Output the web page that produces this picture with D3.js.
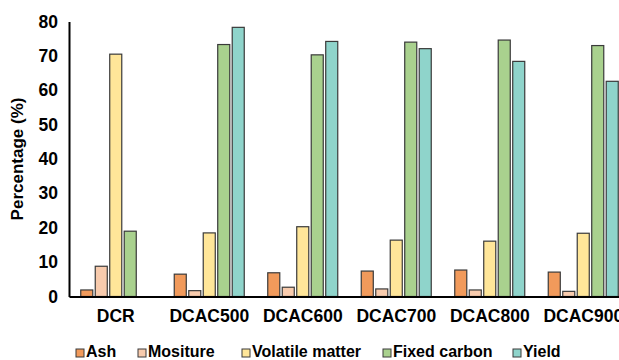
<!DOCTYPE html>
<html><head><meta charset="utf-8">
<script src="https://cdn.jsdelivr.net/npm/d3@7"></script>
<style>body{margin:0;background:#fff}svg{display:block;font-family:"Liberation Sans",Arial,sans-serif;font-weight:bold}</style>
</head><body><svg id="c" width="619" height="360"></svg>
<script>
const categories = ["DCR","DCAC500","DCAC600","DCAC700","DCAC800","DCAC900"];
const seriesNames = ["Ash","Mositure","Volatile matter","Fixed carbon","Yield"];
const ash = [1.9, 6.5, 6.9, 7.4, 7.7, 7.1];
const moisture = [8.8, 1.7, 2.7, 2.2, 1.9, 1.5];
const volatileMatter = [70.5, 18.5, 20.3, 16.4, 16.1, 18.4];
const fixedCarbon = [19.0, 73.3, 70.3, 74.0, 74.6, 73.0];
const yieldVals = [null, 78.3, 74.2, 72.1, 68.4, 62.6];
const yTicks = [0,10,20,30,40,50,60,70,80];
const colors = ["#F19A5B","#F8CBAD","#FFE699","#A9D18E","#8FD4CB"];
const seriesValues = [ash, moisture, volatileMatter, fixedCarbon, yieldVals];

const svg = d3.select("#c");
const x0 = d3.scaleBand().domain(categories).range([69, 630]).padding(0);
const x1 = d3.scaleBand().domain(seriesNames).range([11.75, x0.bandwidth()-11.75]).paddingInner(0.17);
const y = d3.scaleLinear().domain([0,80]).range([296.5, 21.5]);

// bars
const g = svg.append("g");
categories.forEach((c,i)=>{
  seriesNames.forEach((s,j)=>{
    const v = seriesValues[j][i];
    if (v == null) return;
    g.append("rect")
      .attr("x", x0(c)+x1(s)).attr("width", x1.bandwidth())
      .attr("y", y(v)).attr("height", y(0)-y(v))
      .attr("fill", colors[j]).attr("stroke","#3a3a3a").attr("stroke-width",1.2);
  });
});

// y axis
const ya = svg.append("g").attr("transform","translate(69,0)")
  .call(d3.axisLeft(y).tickValues(yTicks).tickSize(0).tickPadding(11));
ya.select(".domain").attr("stroke","#000").attr("stroke-width",2);
ya.selectAll("text").attr("font-size",17.5).attr("font-family","Liberation Sans, Arial, sans-serif").attr("font-weight","bold").attr("fill","#000");

// x axis
const xa = svg.append("g").attr("transform","translate(0,296.5)")
  .call(d3.axisBottom(x0).tickSize(0).tickPadding(13));
xa.select(".domain").attr("stroke","#000").attr("stroke-width",2);
xa.selectAll("text").attr("font-size",17.5).attr("font-family","Liberation Sans, Arial, sans-serif").attr("font-weight","bold").attr("fill","#000");

// y title
svg.append("text").attr("transform","translate(23,159) rotate(-90)")
  .attr("text-anchor","middle").attr("font-size",17).attr("fill","#000")
  .text("Percentage (%)");

// legend
const legendX = [76, 138, 242, 383, 513];
const lg = svg.append("g");
seriesNames.forEach((s,j)=>{
  lg.append("rect").attr("x",legendX[j]).attr("y",349).attr("width",8).attr("height",8)
    .attr("fill",colors[j]).attr("stroke","#3a3a3a").attr("stroke-width",1);
  lg.append("text").attr("x",legendX[j]+10).attr("y",357).attr("font-size",16).attr("fill","#000").text(s);
});
</script></body></html>
